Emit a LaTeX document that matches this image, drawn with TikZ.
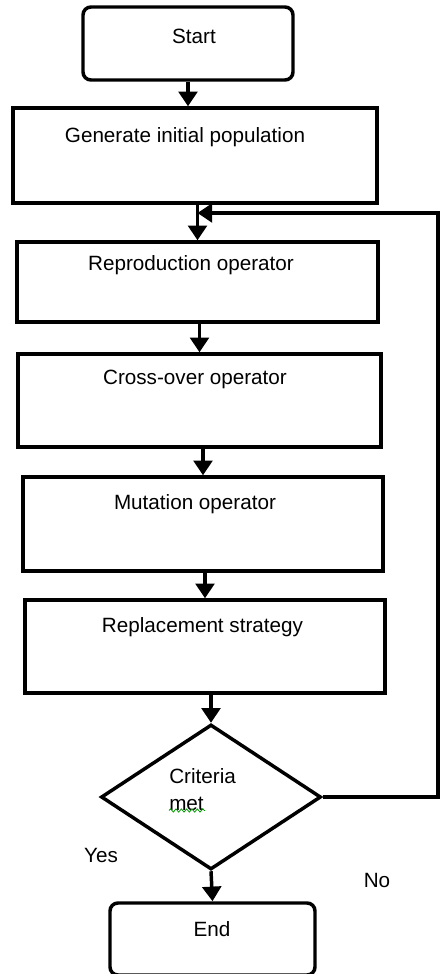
\documentclass[tikz,border=0pt]{standalone}
\usepackage{fontspec}
\setmainfont{Liberation Sans}
\usetikzlibrary{arrows.meta,shapes.geometric,decorations.pathmorphing}

\begin{document}
\begin{tikzpicture}[x=0.75pt,y=0.75pt,yscale=-1,xscale=1,
  procbox/.style={draw,line width=2.6pt,inner sep=0pt,rectangle},
  flow/.style={line width=2.6pt,-{Triangle[width=14pt,length=11pt]}},
  lbl/.style={anchor=base,inner sep=0.75pt,font=\fontsize{15.5}{18}\selectfont}]
\useasboundingbox (0,0) rectangle (442,974);

%Shape: Rounded Rect [id:start]
\draw (188,43.5) node [procbox,rounded corners=6pt,minimum width=157.5pt,minimum height=54.75pt] (start) {};
%Shape: Rectangle [id:gen]
\draw (195,155.5) node [procbox,minimum width=273pt,minimum height=71.25pt] (gen) {};
%Shape: Rectangle [id:rep]
\draw (197.5,282) node [procbox,minimum width=270.75pt,minimum height=60pt] (rep) {};
%Shape: Rectangle [id:cross]
\draw (199.5,400.5) node [procbox,minimum width=272.25pt,minimum height=69.75pt] (cross) {};
%Shape: Rectangle [id:mut]
\draw (203,524) node [procbox,minimum width=270pt,minimum height=70.5pt] (mut) {};
%Shape: Rectangle [id:repl]
\draw (205,646.5) node [procbox,minimum width=270pt,minimum height=69.75pt] (repl) {};
%Shape: Diamond [id:dec]
\draw (211,797) node [procbox,diamond,minimum width=165pt,minimum height=108.75pt] (dec) {};
%Shape: Rounded Rect [id:stop]
\draw (212.5,939) node [procbox,rounded corners=6pt,minimum width=153.75pt,minimum height=54pt] (stop) {};

%Straight Lines [id:arrows]
\draw [flow] (start.south) -- (start.south |- gen.north);
\draw [flow] (gen.south -| rep.north) -- (rep.north);
\draw [flow] (rep.south -| cross.north) -- (cross.north);
\draw [flow] (cross.south -| mut.north) -- (mut.north);
\draw [flow] (mut.south -| repl.north) -- (repl.north);
\draw [flow] (repl.south -| dec.north) -- (dec.north);
\draw [flow] (dec.south) -- (stop.north);
%Straight Lines [id:loop]
\coordinate (ret) at (438,213);
\draw [flow] (dec.east) -| (ret) -- (ret -| rep.north);

% Text Node
\draw (194,43.3) node [lbl] {Start};
% Text Node
\draw (185,142) node [lbl] {Generate initial population};
% Text Node
\draw (191,270.7) node [lbl] {Reproduction operator};
% Text Node
\draw (195,384) node [lbl] {Cross-over operator};
% Text Node
\draw (195,509) node [lbl] {Mutation operator};
% Text Node
\draw (202.5,632) node [lbl] {Replacement strategy};
% Text Node
\draw (168,783) node [lbl,anchor=base west] {Criteria};
% Text Node
\draw (168,810) node [lbl,anchor=base west] (met) {met};
\draw [green!60!black,line width=0.6pt,decorate,decoration={snake,amplitude=1.2pt,segment length=4pt}] (met.south west) ++(1,-1) -- ++(36,0);
% Text Node
\draw (101,862) node [lbl] {Yes};
% Text Node
\draw (377,887) node [lbl] {No};
% Text Node
\draw (212,936) node [lbl] {End};

\end{tikzpicture}
\end{document}
